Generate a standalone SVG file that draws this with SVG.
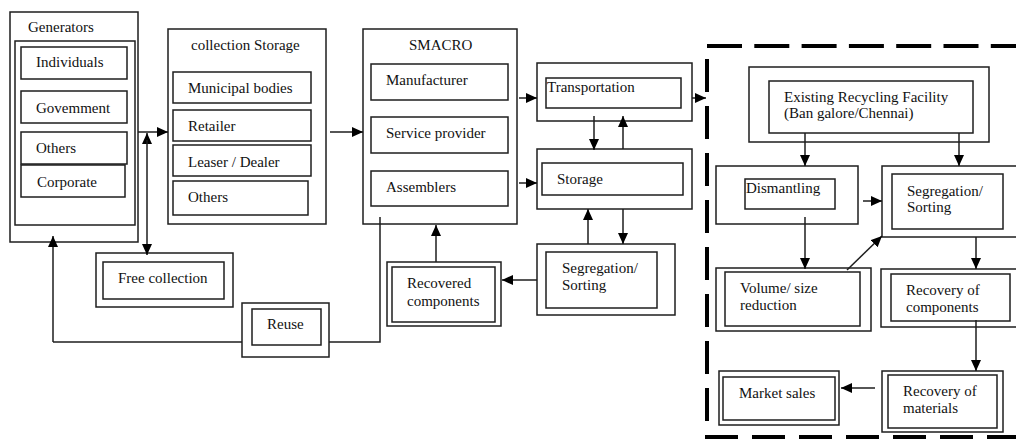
<svg xmlns="http://www.w3.org/2000/svg" width="1016" height="439" viewBox="0 0 1016 439">
<defs>
<style>
rect{fill:none;stroke:#1e1e1e;stroke-width:1.5}
line,polyline{fill:none;stroke:#1e1e1e;stroke-width:1.5}
text{font-family:"Liberation Serif","Times New Roman",serif;font-size:15px;fill:#111}
.dash{stroke:#000;stroke-width:4;fill:none}
</style>
<marker id="ah" markerUnits="userSpaceOnUse" markerWidth="11" markerHeight="10" refX="11" refY="5" orient="auto">
<path d="M0,0 L11,5 L0,10 z" fill="#000"/>
</marker>
</defs>
<rect x="0" y="0" width="1016" height="439" style="fill:#fff;stroke:none"/>

<g id="generators">
<rect x="10" y="12" width="128" height="230"/>
<rect x="15" y="41" width="120" height="184"/>
<text x="28" y="32">Generators</text>
<rect x="21" y="47" width="106" height="32"/>
<text x="36" y="67">Individuals</text>
<rect x="21" y="91" width="106" height="32"/>
<text x="36" y="113">Govemment</text>
<rect x="21" y="132" width="106" height="32"/>
<text x="36" y="153">Others</text>
<rect x="21" y="165" width="104" height="32"/>
<text x="37" y="187">Corporate</text>
</g>

<g id="collection-storage">
<rect x="168" y="29" width="158" height="195"/>
<text x="191" y="50">collection Storage</text>
<rect x="173" y="72" width="138" height="31"/>
<text x="188" y="93">Municipal bodies</text>
<rect x="173" y="110" width="138" height="31"/>
<text x="188" y="131">Retailer</text>
<rect x="173" y="145" width="138" height="31"/>
<text x="188" y="167">Leaser / Dealer</text>
<rect x="173" y="181" width="135" height="34"/>
<text x="188" y="202">Others</text>
</g>

<g id="smacro">
<rect x="363" y="29" width="154" height="195"/>
<text x="409" y="50">SMACRO</text>
<rect x="371" y="64" width="137" height="36"/>
<text x="386" y="85">Manufacturer</text>
<rect x="371" y="117" width="137" height="36"/>
<text x="386" y="138">Service provider</text>
<rect x="371" y="171" width="137" height="35"/>
<text x="386" y="192">Assemblers</text>
</g>

<g id="transportation">
<rect x="537" y="63" width="155" height="58"/>
<rect x="546" y="78" width="135" height="30"/>
<text x="547" y="92">Transportation</text>
</g>

<g id="storage">
<rect x="537" y="149" width="155" height="60"/>
<rect x="542" y="163" width="141" height="32"/>
<text x="557" y="184">Storage</text>
</g>

<g id="segregation-left">
<rect x="537" y="244" width="138" height="71"/>
<rect x="546" y="252" width="111" height="56"/>
<text x="562" y="273">Segregation/</text>
<text x="562" y="290">Sorting</text>
</g>

<g id="recovered-components">
<rect x="387" y="262" width="114" height="64"/>
<rect x="392" y="267" width="103" height="55"/>
<text x="407" y="288">Recovered</text>
<text x="407" y="306">components</text>
</g>

<g id="free-collection">
<rect x="96" y="253" width="137" height="54"/>
<rect x="103" y="262" width="121" height="37"/>
<text x="118" y="283">Free collection</text>
</g>

<g id="reuse">
<rect x="242" y="303" width="87" height="54"/>
<rect x="252" y="309" width="69" height="36"/>
<text x="267" y="329">Reuse</text>
</g>

<g id="recycling-boundary">
<line class="dash" x1="707" y1="46" x2="1016" y2="46" stroke-dasharray="35 12.3"/>
<line class="dash" x1="707" y1="59" x2="707" y2="424" stroke-dasharray="33 14"/>
<line class="dash" x1="705" y1="437" x2="1016" y2="437" stroke-dasharray="33 14"/>
</g>

<g id="existing-facility">
<rect x="749" y="67" width="240" height="75"/>
<rect x="769" y="81" width="204" height="52"/>
<text x="784" y="102">Existing Recycling Facility</text>
<text x="784" y="118">(Ban galore/Chennai)</text>
</g>

<g id="dismantling">
<rect x="716" y="166" width="142" height="58"/>
<rect x="745" y="179" width="90" height="30"/>
<text x="746" y="193">Dismantling</text>
</g>

<g id="segregation-right">
<rect x="882" y="166" width="140" height="71"/>
<rect x="892" y="174" width="111" height="55"/>
<text x="907" y="196">Segregation/</text>
<text x="907" y="212">Sorting</text>
</g>

<g id="volume-reduction">
<rect x="716" y="268" width="155" height="63"/>
<rect x="725" y="272" width="135" height="54"/>
<text x="740" y="293">Volume/ size</text>
<text x="740" y="310">reduction</text>
</g>

<g id="recovery-components">
<rect x="881" y="269" width="141" height="58"/>
<rect x="891" y="274" width="119" height="47"/>
<text x="906" y="295">Recovery of</text>
<text x="906" y="312">components</text>
</g>

<g id="recovery-materials">
<rect x="882" y="371" width="121" height="61"/>
<rect x="888" y="375" width="109" height="53"/>
<text x="903" y="396">Recovery of</text>
<text x="903" y="413">materials</text>
</g>

<g id="market-sales">
<rect x="719" y="371" width="120" height="54"/>
<rect x="723" y="377" width="112" height="43"/>
<text x="739" y="398">Market sales</text>
</g>

<g id="connectors">
<line x1="138" y1="132" x2="168" y2="132" marker-end="url(#ah)"/>
<line x1="147" y1="144" x2="147" y2="133" marker-end="url(#ah)"/>
<line x1="147" y1="140" x2="147" y2="255" marker-end="url(#ah)"/>
<line x1="330" y1="132" x2="363" y2="132" marker-end="url(#ah)"/>
<line x1="519" y1="98" x2="537" y2="98" marker-end="url(#ah)"/>
<line x1="519" y1="183" x2="537" y2="183" marker-end="url(#ah)"/>
<line x1="692" y1="98" x2="706" y2="98" marker-end="url(#ah)"/>
<line x1="594" y1="116" x2="594" y2="150" marker-end="url(#ah)"/>
<line x1="623" y1="149" x2="623" y2="116" marker-end="url(#ah)"/>
<line x1="623" y1="209" x2="623" y2="244" marker-end="url(#ah)"/>
<line x1="588" y1="244" x2="588" y2="209" marker-end="url(#ah)"/>
<line x1="537" y1="280" x2="502" y2="280" marker-end="url(#ah)"/>
<line x1="436" y1="262" x2="436" y2="225" marker-end="url(#ah)"/>
<polyline points="380,217 380,342 329,342"/>
<line x1="242" y1="342" x2="53" y2="342"/>
<line x1="53" y1="342" x2="53" y2="236" marker-end="url(#ah)"/>
<line x1="805" y1="133" x2="805" y2="166" marker-end="url(#ah)"/>
<line x1="959" y1="133" x2="959" y2="166" marker-end="url(#ah)"/>
<line x1="863" y1="201" x2="882" y2="201" marker-end="url(#ah)"/>
<line x1="805" y1="217" x2="805" y2="269" marker-end="url(#ah)"/>
<line x1="847" y1="270" x2="882" y2="236" marker-end="url(#ah)"/>
<line x1="976" y1="237" x2="976" y2="269" marker-end="url(#ah)"/>
<line x1="976" y1="320" x2="976" y2="371" marker-end="url(#ah)"/>
<line x1="875" y1="388" x2="841" y2="388" marker-end="url(#ah)"/>
</g>
</svg>
